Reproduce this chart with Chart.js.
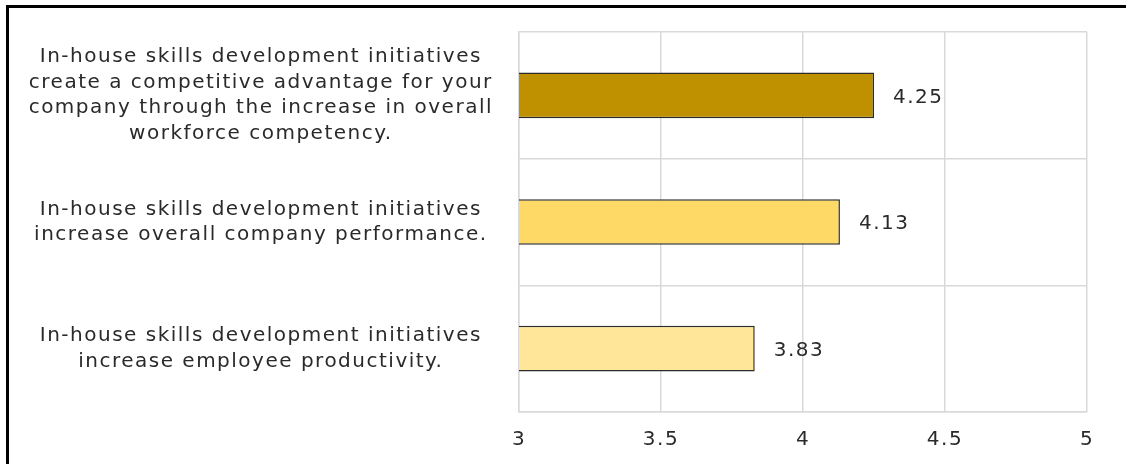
<!DOCTYPE html>
<html>
<head>
<meta charset="utf-8">
<script src="https://cdn.jsdelivr.net/npm/chart.js@4/dist/chart.umd.min.js"></script>
<style>
  html, body { margin: 0; padding: 0; background: #fff; overflow: hidden; }
  #wrap { position: relative; width: 1126px; height: 464px; }
  #frame {
    position: absolute; left: 6px; top: 5px; right: -10px; bottom: -10px;
    border-top: 3px solid #000; border-left: 3px solid #000;
    pointer-events: none;
  }
  canvas { position: absolute; left: 0; top: 0; }
</style>
</head>
<body>
<div id="wrap">
  <canvas id="c" width="1126" height="464"></canvas>
  <div id="frame"></div>
</div>
<script>
// Survey statements (one label per bar, split into display lines)
const statements = [
  ["In-house skills development initiatives", "create a competitive advantage for your", "company through the increase in overall", "workforce competency."],
  ["In-house skills development initiatives", "increase overall company performance."],
  ["In-house skills development initiatives", "increase employee productivity."]
];
// Mean agreement scores
const meanScores = [4.25, 4.13, 3.83];
// Fill colour per statement
const barColors = ["#BF9000", "#FFD966", "#FFE699"];
// Value axis range and tick step
const axisMin = 3;
const axisMax = 5;
const axisStep = 0.5;

const textColor = "#2a2a2a";
const fontFamily = "'DejaVu Sans', Verdana, sans-serif";
const fontSize = 20;
const tracking = "1.5px";

// Slightly wide tracking for all text drawn on the canvas
const wideText = {
  id: "wideText",
  beforeUpdate(chart) { chart.ctx.letterSpacing = tracking; },
  beforeDraw(chart) { chart.ctx.letterSpacing = tracking; }
};

// Writes each bar's value just past its end
const valueLabels = {
  id: "valueLabels",
  afterDatasetsDraw(chart) {
    const ctx = chart.ctx;
    const meta = chart.getDatasetMeta(0);
    ctx.save();
    ctx.letterSpacing = tracking;
    ctx.font = fontSize + "px " + fontFamily;
    ctx.fillStyle = textColor;
    ctx.textAlign = "left";
    ctx.textBaseline = "middle";
    meta.data.forEach((bar, i) => {
      ctx.fillText(meanScores[i].toFixed(2), bar.x + 19, bar.y + 2);
    });
    ctx.restore();
  }
};

new Chart(document.getElementById("c"), {
  type: "bar",
  data: {
    labels: statements,
    datasets: [{
      data: meanScores,
      backgroundColor: barColors,
      borderColor: "#2b2b2b",
      borderWidth: 1.5,
      barPercentage: 0.36,
      categoryPercentage: 1
    }]
  },
  options: {
    indexAxis: "y",
    responsive: false,
    animation: false,
    layout: { padding: { top: 32, right: 39, bottom: 14, left: 0 } },
    plugins: { legend: { display: false }, tooltip: { enabled: false } },
    scales: {
      x: {
        min: axisMin,
        max: axisMax,
        afterFit(scale) { scale.height = 38; },
        ticks: {
          stepSize: axisStep,
          color: textColor,
          font: { family: fontFamily, size: fontSize },
          padding: 16,
          callback: (v) => String(v)
        },
        grid: { color: "#d9d9d9", lineWidth: 1.5, drawTicks: false },
        border: { color: "#d9d9d9", width: 1.5 }
      },
      y: {
        afterFit(scale) {
          scale.width = 519;
          scale.paddingTop = 0;
          scale.paddingBottom = 0;
        },
        ticks: {
          crossAlign: "center",
          color: textColor,
          font: { family: fontFamily, size: fontSize, lineHeight: 1.27 },
          padding: 26
        },
        grid: { color: "#d9d9d9", lineWidth: 1.5, drawTicks: false, offset: true },
        border: { color: "#d9d9d9", width: 1.5 }
      }
    }
  },
  plugins: [wideText, valueLabels]
});
</script>
</body>
</html>
